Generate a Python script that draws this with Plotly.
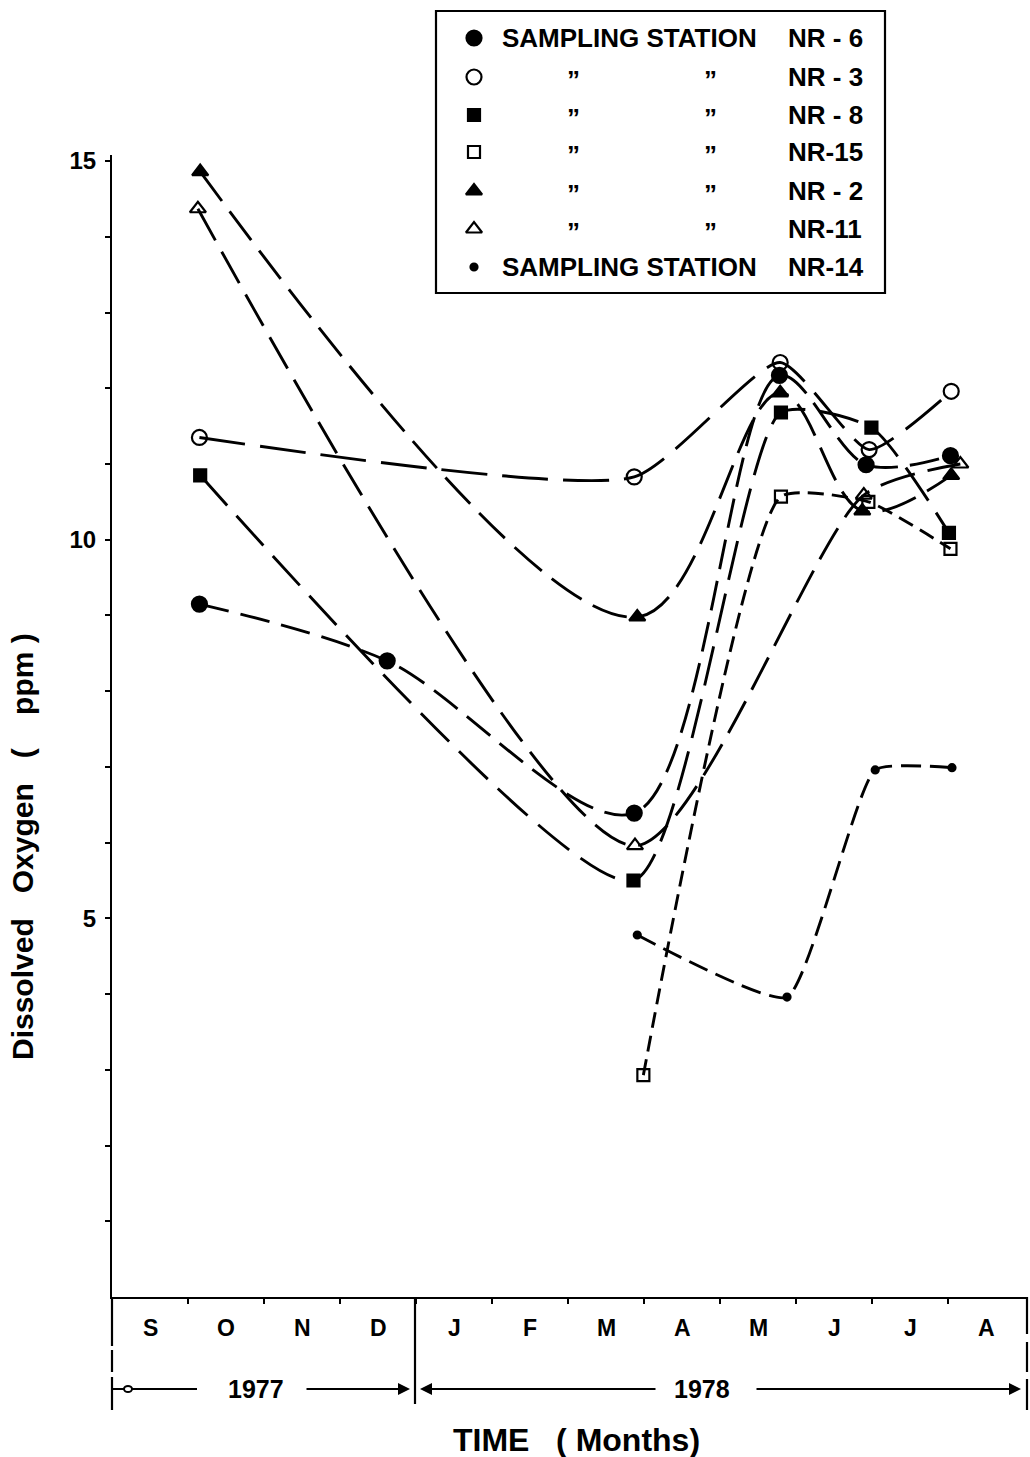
import plotly.graph_objects as go

# Sampling time in months counted from September 1977 (0 = Sep, 11 = Aug 1978)
# and dissolved oxygen (ppm) at each sampling station.
nr6_t = [0.65, 3.12, 6.37, 8.28, 9.42, 10.53]
nr6_do = [9.15, 8.40, 6.39, 12.17, 10.99, 11.11]

nr3_t = [0.65, 6.37, 8.29, 9.46, 10.54]
nr3_do = [11.35, 10.83, 12.34, 11.19, 11.96]

nr8_t = [0.66, 6.36, 8.30, 9.49, 10.51]
nr8_do = [10.85, 5.50, 11.68, 11.48, 10.09]

nr15_t = [6.49, 8.30, 9.45, 10.53]
nr15_do = [2.93, 10.57, 10.50, 9.88]

nr2_t = [0.66, 6.41, 8.29, 9.37, 10.54]
nr2_do = [14.86, 8.98, 11.94, 10.38, 10.85]

nr11_t = [0.63, 6.38, 9.39, 10.66]
nr11_do = [14.37, 5.96, 10.59, 11.00]

nr14_t = [6.41, 8.38, 9.54, 10.55]
nr14_do = [4.78, 3.96, 6.96, 6.99]

month_labels = ["S", "O", "N", "D", "J", "F", "M", "A", "M", "J", "J", "A"]
year_labels = ["1977", "1978"]
y_tick_labels = {5: "5", 10: "10", 15: "15"}

NB = "\u00a0"
station_names = ["NR" + NB + "-" + NB + "6", "NR" + NB + "-" + NB + "3", "NR" + NB + "-" + NB + "8",
                 "NR-15", "NR" + NB + "-" + NB + "2", "NR-11", "NR-14"]
station_prefix = ["SAMPLING STATION", None, None, None, None, None, "SAMPLING STATION"]

FONT = "Liberation Sans, Arial, sans-serif"
W, H = 1030, 1457
ML, MR, MB = 112, 2, 160
PW = W - ML - MR
PAPER_H = H - MB            # paper spans from the top of the page down to the time axis
PLOT_TOP = 155              # top of the data area, in page pixels
Y_TOP = 15.08


def px_x(px):
    return (px - ML) / PW


def px_y(py):
    return (PAPER_H - py) / PAPER_H


def bold(size):
    return dict(family=FONT, size=size, color="black", weight="bold")


def label(xp, yp, text, size, xref="paper", **kw):
    d = dict(x=xp, y=yp, xref=xref, yref="paper", text=text, showarrow=False,
             xanchor="center", yanchor="middle", font=bold(size))
    d.update(kw)
    return d


fig = go.Figure()

# (times, values, marker symbol, marker size, dash pattern, spline smoothing)
series = [
    (nr6_t, nr6_do, "circle", 15, "30px,12px", 0.9),
    (nr3_t, nr3_do, "circle-open", 15, "46px,15px", 0.55),
    (nr8_t, nr8_do, "square", 12, "40px,14px", 0.6),
    (nr15_t, nr15_do, "square-open", 12, "16px,8px", 0.5),
    (nr2_t, nr2_do, "triangle-up", 14, "36px,13px", 1.0),
    (nr11_t, nr11_do, "triangle-up-open", 14, "36px,13px", 0.7),
    (nr14_t, nr14_do, "circle", 7, "20px,9px", 0.45),
]

for t, do, sym, size, dash, smooth in series:
    fig.add_trace(go.Scatter(
        x=t, y=do, mode="lines+markers",
        line=dict(color="black", width=2.9, dash=dash, shape="spline", smoothing=smooth),
        marker=dict(symbol=sym, size=size, color="black", opacity=1,
                    line=dict(color="black", width=2.2)),
        cliponaxis=False, showlegend=False,
    ))

# key symbols, drawn on a page-pixel axis pair laid over the whole paper
row_y = [38, 77, 115, 152, 191, 229, 267]
fig.add_trace(go.Scatter(
    x=[474] * len(series), y=row_y, mode="markers", xaxis="x2", yaxis="y2",
    marker=dict(symbol=[s[2] for s in series], size=[s[3] for s in series], color="black",
                opacity=1, line=dict(color="black", width=2.2)),
    cliponaxis=False, showlegend=False, hoverinfo="skip",
))

annotations = []
shapes = []

# month letters in the time strip
for i, m in enumerate(month_labels):
    annotations.append(label(i, px_y(1328), m, 23, xref="x"))

# year labels and arrows
annotations.append(label(px_x(256), px_y(1389), year_labels[0], 25))
annotations.append(label(px_x(702), px_y(1389), year_labels[1], 25))
for x0, x1 in [(305, 410), (657, 420), (755, 1021)]:
    annotations.append(dict(x=px_x(x1), y=px_y(1389), ax=x0 - x1, ay=0,
                            xref="paper", yref="paper", axref="pixel", ayref="pixel",
                            text="", showarrow=True, arrowhead=2, arrowsize=1.2,
                            arrowwidth=2, arrowcolor="black"))
shapes.append(dict(type="line", xref="paper", yref="paper", x0=px_x(112), x1=px_x(197),
                   y0=px_y(1389), y1=px_y(1389), line=dict(color="black", width=2)))
shapes.append(dict(type="circle", xref="paper", yref="paper", xsizemode="pixel", ysizemode="pixel",
                   xanchor=px_x(128), yanchor=px_y(1389), x0=-4, x1=4, y0=-3, y1=3,
                   fillcolor="white", line=dict(color="black", width=2)))

# vertical lines of the time strip
for xp, segs in [(112, [(1297, 1346), (1350, 1372), (1377, 1410)]),
                 (415, [(1297, 1404)]),
                 (1027, [(1297, 1334), (1342, 1372), (1379, 1410)])]:
    for y0, y1 in segs:
        shapes.append(dict(type="line", xref="paper", yref="paper", x0=px_x(xp), x1=px_x(xp),
                           y0=px_y(y0), y1=px_y(y1), line=dict(color="black", width=2.2)))

# axis titles
annotations.append(label(px_x(22), px_y(847),
                         "Dissolved" + NB * 3 + "Oxygen" + NB * 3 + "(" + NB * 4 + "ppm" + NB + ")",
                         30, textangle=-90))
annotations.append(label(px_x(576), px_y(1440), "TIME" + NB * 3 + "(" + NB + "Months)", 32))

# key box and texts
shapes.append(dict(type="rect", xref="paper", yref="paper", x0=px_x(436), x1=px_x(885),
                   y0=px_y(11), y1=px_y(293), line=dict(color="black", width=2.2)))
for prefix, name, ry in zip(station_prefix, station_names, row_y):
    if prefix:
        annotations.append(label(px_x(500), px_y(ry), prefix, 26, xanchor="left"))
    else:
        for dx in (573, 710):
            annotations.append(label(px_x(dx), px_y(ry + 3), "\u201d", 26))
    annotations.append(label(px_x(786), px_y(ry), name, 26, xanchor="left"))

fig.update_layout(
    width=W, height=H,
    margin=dict(l=ML, r=MR, t=0, b=MB, pad=0, autoexpand=False),
    paper_bgcolor="white", plot_bgcolor="rgba(0,0,0,0)",
    showlegend=False,
    xaxis=dict(range=[-0.5, 11.55], showgrid=False, zeroline=False,
               showline=True, linecolor="black", linewidth=2.2,
               tickmode="array", tickvals=[i + 0.5 for i in range(11)],
               ticks="outside", ticklen=5, tickwidth=1.5, tickcolor="black",
               showticklabels=False),
    yaxis=dict(range=[0, Y_TOP], domain=[0, px_y(PLOT_TOP)],
               showgrid=False, zeroline=False,
               showline=True, linecolor="black", linewidth=2.2,
               tickmode="array", tickvals=list(range(1, 16)),
               ticktext=[y_tick_labels.get(v, "") for v in range(1, 16)],
               ticks="outside", ticklen=5, tickwidth=1.5, tickcolor="black",
               ticklabelstandoff=4,
               tickfont=bold(24)),
    xaxis2=dict(range=[ML, W - MR], domain=[0, 1], anchor="y2", visible=False, fixedrange=True),
    yaxis2=dict(range=[PAPER_H, 0], domain=[0, 1], anchor="x2", visible=False, fixedrange=True),
    annotations=annotations,
    shapes=shapes,
)

fig.write_html("out.html")
